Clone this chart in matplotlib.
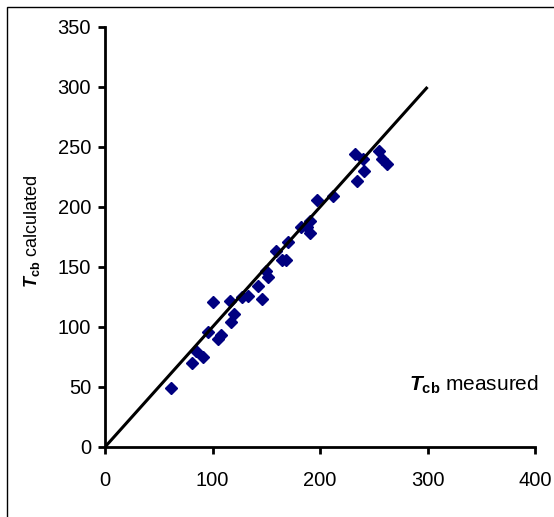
import matplotlib.pyplot as plt
from matplotlib.patches import Rectangle

plt.rcParams['font.family'] = 'Liberation Sans'
plt.rcParams['mathtext.fontset'] = 'custom'
plt.rcParams['mathtext.rm'] = 'Liberation Sans'
plt.rcParams['mathtext.it'] = 'Liberation Sans:italic'
plt.rcParams['mathtext.bf'] = 'Liberation Sans:bold'
plt.rcParams['mathtext.bfit'] = 'Liberation Sans:italic:bold'

# measured vs calculated Tcb
measured = [61, 81, 85, 91, 96, 100, 105, 108, 116, 117, 120, 127, 133, 142,
            146, 150, 152, 159, 165, 168, 170, 182, 188, 191, 191, 197, 212,
            233, 234, 240, 241, 255, 258, 262]
calculated = [49, 70, 80, 75, 96, 121, 90, 93, 122, 104, 111, 125, 126, 134,
              123, 147, 142, 163, 156, 156, 171, 183, 183, 188, 178, 206, 209,
              244, 222, 240, 230, 247, 240, 236]
line_x = [0, 300]
line_y = [0, 300]

xticks = [0, 100, 200, 300, 400]
yticks = [0, 50, 100, 150, 200, 250, 300, 350]

fig = plt.figure(figsize=(5.54, 5.17), dpi=100)
ax = fig.add_axes([105/554, 1 - 447/517, 430/554, 420/517])

ax.plot(measured, calculated, 'D', color='#000080', ms=6.5, mec='#000080', zorder=2)
ax.plot(line_x, line_y, color='black', lw=2.2, zorder=3, solid_capstyle='butt')

ax.set_xlim(0, 400)
ax.set_ylim(0, 350)
ax.set_xticks(xticks)
ax.set_yticks(yticks)
for s in ['top', 'right']:
    ax.spines[s].set_visible(False)
for s in ['left', 'bottom']:
    ax.spines[s].set_linewidth(2)
ax.tick_params(axis='both', direction='out', length=5, width=2, labelsize=14.5)
ax.tick_params(axis='x', pad=12)
ax.tick_params(axis='y', pad=5)

ax.set_ylabel(r'$\mathbfit{T}_{\mathbf{cb}}$ calculated', fontsize=13)
ax.yaxis.set_label_coords(-0.146, 0.514)
ax.text(283, 52, r'$\mathbfit{T}_{\mathbf{cb}}$ measured', fontsize=15,
        ha='left', va='center', clip_on=False)

fig.patches.append(Rectangle((7/554, -0.2), 1.2, 1.2 - 7/517,
                             transform=fig.transFigure, fill=False,
                             edgecolor='black', lw=1))

fig.savefig('out.png', dpi=100)
